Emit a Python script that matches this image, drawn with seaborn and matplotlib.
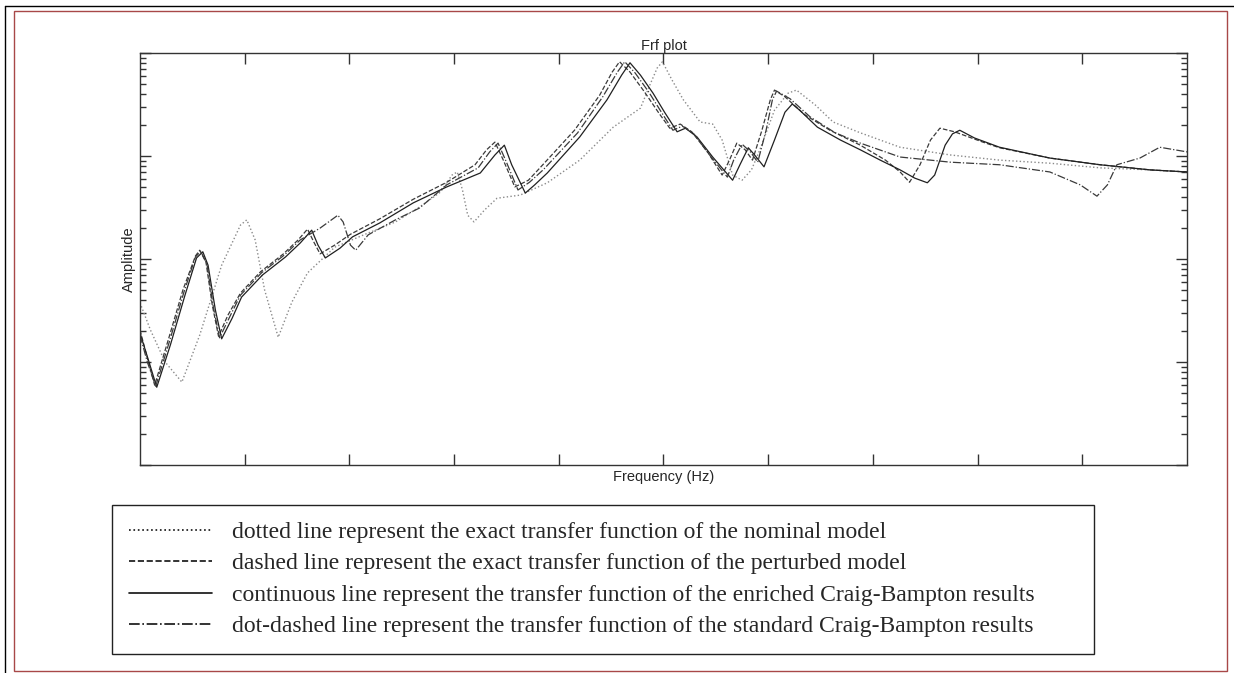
import numpy as np
import pandas as pd
import matplotlib
matplotlib.use("Agg")
import matplotlib.pyplot as plt
from matplotlib.lines import Line2D
from matplotlib.patches import Rectangle
import seaborn as sns

# values: frequency (Hz, 0-1000 over the axis) and amplitude in dB
nominal_f = [0, 10, 24, 40, 57, 78, 96, 102, 110, 119, 132, 145, 160, 186, 215, 244, 267, 287, 298, 303,
             308, 313, 319, 329, 341, 363, 389, 420, 452, 478, 487, 494, 499, 508, 519, 535, 547, 556, 566, 575,
             584, 592, 606, 619, 627, 645, 662, 688, 726, 774, 821, 869, 917, 965, 1000]
nominal_db = [-28.5, -33.8, -40.0, -43.9, -34.8, -21.2, -13.4, -12.4, -16.3, -26.0, -35.2, -28.4, -22.7, -17.7,
              -15.2, -12.8, -9.9, -7.0, -3.7, -3.1, -6.6, -11.5, -12.8, -10.5, -8.2, -7.6, -5.2, -0.8, 5.6, 9.3,
              13.8, 17.1, 18.3, 14.8, 10.9, 6.6, 6.2, 3.1, -3.7, -4.7, -2.7, 1.2, 8.9, 12.2, 12.8, 9.9, 6.6, 4.5,
              1.7, 0.2, -0.8, -1.4, -2.3, -2.7, -3.1]

perturbed_f = [0, 7, 14, 27, 41, 53, 57, 63, 69, 75, 84, 96, 115, 137, 151, 160, 166, 172, 186, 201,
               229, 261, 293, 320, 331, 339, 347, 358, 371, 382, 415, 439, 451, 458, 468, 482, 495, 506, 516, 527,
               542, 556, 563, 570, 578, 585, 594, 602, 606, 616, 635, 659, 688, 712, 726, 735, 745, 755, 764, 778,
               805, 821, 869, 917, 965, 1000]
perturbed_db = [-33.8, -39.2, -44.5, -35.7, -26.0, -19.4, -18.3, -20.6, -28.9, -35.0, -30.9, -26.6, -22.5, -19.0,
                -16.3, -14.2, -16.7, -19.0, -17.3, -15.2, -12.2, -8.4, -5.1, -1.7, 1.2, 2.7, -0.8, -6.0, -4.7, -2.3,
                5.0, 11.8, 16.3, 18.3, 16.3, 12.4, 8.5, 5.4, 6.2, 4.7, 0.8, -3.7, -0.8, 2.5, 1.2, -0.8, 5.0, 10.9,
                12.8, 11.5, 8.0, 5.0, 2.1, -0.8, -3.1, -5.1, -1.7, 3.1, 5.4, 4.7, 2.7, 1.6, -0.4, -1.7, -2.7, -3.1]

enriched_f = [0, 8, 16, 29, 43, 54, 60, 65, 72, 78, 88, 97, 117, 139, 153, 164, 170, 177, 191, 203,
              229, 261, 293, 325, 339, 348, 355, 368, 377, 389, 420, 446, 460, 468, 478, 490, 501, 513, 521, 532,
              547, 566, 573, 581, 587, 596, 606, 616, 623, 630, 647, 669, 688, 707, 726, 740, 752, 759, 769, 776,
              783, 797, 821, 869, 917, 965, 1000]
enriched_db = [-34.4, -39.6, -44.9, -36.7, -27.0, -19.8, -18.6, -21.2, -29.9, -35.5, -31.5, -27.4, -23.1, -19.6,
               -16.9, -14.4, -17.3, -19.8, -17.9, -15.7, -13.0, -9.1, -6.0, -3.3, 0.2, 2.1, -1.7, -7.2, -5.6, -3.3,
               3.7, 10.9, 15.7, 18.1, 15.7, 12.2, 8.5, 4.7, 5.4, 3.7, -0.2, -4.7, -1.7, 1.6, 0.2, -2.1, 3.1, 8.5,
               10.1, 8.9, 5.6, 3.1, 1.2, -0.8, -2.7, -4.3, -5.2, -3.7, 2.1, 4.3, 5.0, 3.5, 1.7, -0.4, -1.7, -2.7, -3.1]

standard_f = [0, 7, 15, 28, 42, 53, 58, 64, 70, 76, 86, 96, 116, 138, 153, 172, 189, 194, 201, 206,
              218, 244, 267, 293, 323, 334, 342, 350, 361, 372, 385, 418, 442, 456, 463, 473, 486, 498, 509, 518,
              529, 544, 561, 567, 575, 583, 590, 598, 604, 608, 621, 640, 664, 688, 726, 774, 821, 869, 898, 914,
              924, 933, 955, 974, 1000]
standard_db = [-34.8, -40.0, -44.7, -36.1, -26.4, -19.6, -18.5, -21.0, -29.3, -35.3, -31.1, -27.0, -22.7, -19.2,
               -16.3, -14.0, -11.5, -12.8, -17.3, -18.3, -15.3, -12.4, -10.1, -5.6, -2.3, 0.8, 2.5, -1.2, -6.6, -5.1,
               -2.7, 4.5, 11.5, 16.3, 18.3, 16.1, 12.4, 8.5, 5.0, 5.8, 4.3, 0.2, -4.1, -0.8, 2.3, 0.8, -1.2, 5.0,
               10.9, 12.6, 11.1, 7.6, 4.5, 2.5, -0.2, -1.2, -1.7, -3.1, -5.6, -7.8, -5.6, -1.7, -0.4, 1.7, 0.8]

labels = [
    "dotted line represent the exact transfer function of the nominal model",
    "dashed line represent the exact transfer function of the perturbed model",
    "continuous line represent the transfer function of the enriched Craig-Bampton results",
    "dot-dashed line represent the transfer function of the standard Craig-Bampton results",
]

sns.set_style("white")
plt.rcParams["font.family"] = ["Liberation Sans", "DejaVu Sans"]

fig = plt.figure(figsize=(12.34, 6.73), dpi=100)
ax = fig.add_axes([140 / 1234, 208 / 673, 1047 / 1234, 412 / 673])

series = [
    (nominal_f, nominal_db, ":", "#8a8a8a", 1.0),
    (perturbed_f, perturbed_db, "--", "#3a3a3a", 0.9),
    (enriched_f, enriched_db, "-", "#202020", 0.9),
    (standard_f, standard_db, "-.", "#3a3a3a", 0.9),
]
for (f, db, ls, col, lw), lab in zip(series, labels):
    df = pd.DataFrame({"Frequency": f, "Amplitude": 10 ** (np.array(db) / 20.0)})
    sns.lineplot(data=df, x="Frequency", y="Amplitude", ax=ax, color=col, linestyle=ls,
                 linewidth=lw, label=lab)

ax.set_yscale("log")
ax.set_xlim(0, 1000)
ax.set_ylim(1e-3, 1e1)
ax.set_xticks(np.arange(100, 1000, 100))
ax.tick_params(which="both", direction="in", top=True, bottom=True, left=True, right=True,
               labelbottom=False, labelleft=False, color="#333333", width=1)
ax.tick_params(which="major", length=8)
ax.tick_params(which="minor", length=4)
for s in ax.spines.values():
    s.set_color("#333333")
    s.set_linewidth(1)

ax.set_title("Frf plot", fontsize=10.5, pad=2)
ax.set_xlabel("Frequency (Hz)", fontsize=10.5)
ax.set_ylabel("Amplitude", fontsize=10.5)
ax.xaxis.set_label_coords(0.5, -0.013)
ax.yaxis.set_label_coords(-0.004, 0.5)

leg = ax.legend(loc="upper left", bbox_to_anchor=(112 / 1234, 0.0, 982 / 1234, 168 / 673),
                bbox_transform=fig.transFigure, mode="expand", fancybox=False, framealpha=1,
                prop={"family": "Liberation Serif", "size": 17}, handlelength=3.55,
                handletextpad=0.85, borderpad=0.7, labelspacing=0.42, borderaxespad=0)
leg.get_frame().set_edgecolor("#222222")
leg.get_frame().set_linewidth(1)
for h in leg.get_lines():
    h.set_color("#111111")
    h.set_linewidth(1.2)

# page frame around the figure
fig.add_artist(Rectangle((14 / 1234, 2 / 673), 1213 / 1234, 660 / 673, transform=fig.transFigure,
                         fill=False, edgecolor="#a84848", linewidth=1))
fig.add_artist(Line2D([5 / 1234, 5 / 1234], [0, 667 / 673], transform=fig.transFigure, color="black", lw=1))
fig.add_artist(Line2D([5 / 1234, 1], [667 / 673, 667 / 673], transform=fig.transFigure, color="black", lw=1))

fig.savefig("out.png", dpi=100)
plt.close(fig)
